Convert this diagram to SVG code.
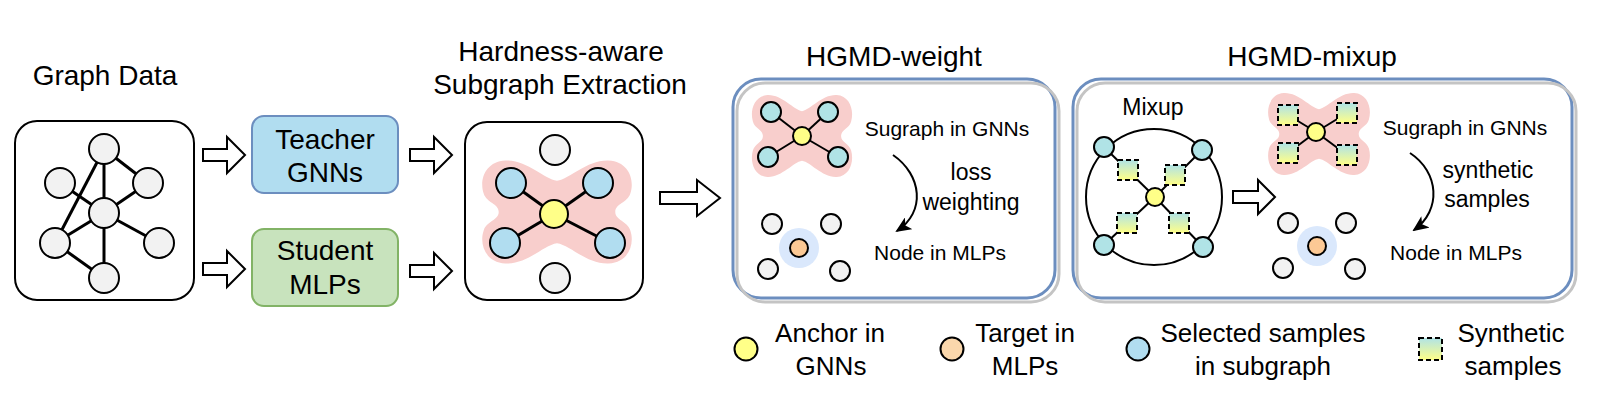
<svg xmlns="http://www.w3.org/2000/svg" width="1604" height="406" viewBox="0 0 1604 406">
<style>
text{font-family:"Liberation Sans",Arial,sans-serif;fill:#000;text-anchor:middle}
.h{font-size:28px}
.p{font-size:21px}
.q{font-size:23px}
.l{font-size:26px}
.box{fill:#fff;stroke:#000;stroke-width:2}
.e{stroke:#000;stroke-width:3;fill:none}
.e2{stroke:#000;stroke-width:2;fill:none}
.g{fill:#f2f2f2;stroke:#000;stroke-width:2}
.b{fill:#b1ddf0;stroke:#000;stroke-width:2}
.t{fill:#b0e3e6;stroke:#000;stroke-width:2}
.y{fill:#ffff88;stroke:#000;stroke-width:2}
.o{fill:#fcc995;stroke:#000;stroke-width:2}
.halo{fill:#dae8fc}
.blob{fill:#f8cecc}
.arr{fill:#fff;stroke:#000;stroke-width:2;stroke-linejoin:miter}
.sq{fill:url(#sg);stroke:#000;stroke-width:2;stroke-dasharray:5 3}
.pb{fill:#fff;stroke:#6c8ebf;stroke-width:3}
.ps{fill:none;stroke:#c4c4c4;stroke-width:3}
</style>
<defs>
<linearGradient id="sg" x1="0" y1="0" x2="0" y2="1">
<stop offset="0" stop-color="#b0e3e6"/>
<stop offset="1" stop-color="#ffff88"/>
</linearGradient>
<path id="blobp" d="M0,-34 C14,-36 32,-57 55,-56 C76,-55 83,-35 78,-20 C75,-10 62,-9 62,0 C62,9 75,10 78,20 C83,35 76,55 55,56 C32,57 14,36 0,34 C-14,36 -32,57 -55,56 C-76,55 -83,35 -78,20 C-75,10 -62,9 -62,0 C-62,-9 -75,-10 -78,-20 C-83,-35 -76,-55 -55,-56 C-32,-57 -14,-36 0,-34 Z"/>
<marker id="ah" markerUnits="userSpaceOnUse" markerWidth="16" markerHeight="14" refX="14" refY="7" orient="auto">
<path d="M0,0 L16,7 L0,14 L4,7 Z" fill="#000"/>
</marker>
</defs>

<!-- Graph Data -->
<g id="graph-data">
<text class="h" x="105" y="85">Graph Data</text>
<rect class="box" x="15" y="121" width="179" height="179" rx="22"/>
<line class="e" x1="104" y1="149" x2="104" y2="213"/>
<line class="e" x1="104" y1="149" x2="148" y2="183"/>
<line class="e" x1="104" y1="149" x2="55" y2="243"/>
<line class="e" x1="60" y1="183" x2="104" y2="213"/>
<line class="e" x1="148" y1="183" x2="104" y2="213"/>
<line class="e" x1="104" y1="213" x2="55" y2="243"/>
<line class="e" x1="104" y1="213" x2="159" y2="243"/>
<line class="e" x1="104" y1="213" x2="104" y2="278"/>
<line class="e" x1="55" y1="243" x2="104" y2="278"/>
<circle class="g" cx="104" cy="149" r="15"/>
<circle class="g" cx="60" cy="183" r="15"/>
<circle class="g" cx="148" cy="183" r="15"/>
<circle class="g" cx="104" cy="213" r="15"/>
<circle class="g" cx="55" cy="243" r="15"/>
<circle class="g" cx="159" cy="243" r="15"/>
<circle class="g" cx="104" cy="278" r="15"/>
</g>

<!-- Teacher / Student -->
<g id="teacher">
<rect x="252" y="116" width="146" height="77" rx="12" fill="#b1ddf0" stroke="#6c8ebf" stroke-width="2"/>
<text class="h" x="325" y="149">Teacher</text>
<text class="h" x="325" y="182">GNNs</text>
</g>
<g id="student">
<rect x="252" y="229" width="146" height="77" rx="12" fill="#c8e3bd" stroke="#82b366" stroke-width="2"/>
<text class="h" x="325" y="260">Student</text>
<text class="h" x="325" y="294">MLPs</text>
</g>

<!-- Subgraph extraction -->
<g id="subgraph-extraction">
<text class="h" x="561" y="61">Hardness-aware</text>
<text class="h" x="560" y="94">Subgraph Extraction</text>
<rect class="box" x="465" y="122" width="178" height="178" rx="22"/>
<use href="#blobp" class="blob" transform="translate(557,212) scale(0.94,0.92)"/>
<line class="e" x1="554" y1="214" x2="511" y2="183"/>
<line class="e" x1="554" y1="214" x2="598" y2="183"/>
<line class="e" x1="554" y1="214" x2="505" y2="243"/>
<line class="e" x1="554" y1="214" x2="610" y2="243"/>
<circle class="g" cx="555" cy="150" r="15"/>
<circle class="g" cx="555" cy="278" r="15"/>
<circle class="b" cx="511" cy="183" r="15"/>
<circle class="b" cx="598" cy="183" r="15"/>
<circle class="b" cx="505" cy="243" r="15"/>
<circle class="b" cx="610" cy="243" r="15"/>
<circle class="y" cx="554" cy="214" r="14"/>
</g>

<!-- HGMD-weight -->
<g id="hgmd-weight">
<text class="h" x="894" y="66">HGMD-weight</text>
<rect class="pb" x="733" y="79" width="322" height="219" rx="28"/>
<rect class="ps" x="737" y="83" width="322" height="219" rx="28"/>
<use href="#blobp" class="blob" transform="translate(802,136) scale(0.63,0.73)"/>
<line class="e2" x1="802" y1="136" x2="771" y2="112"/>
<line class="e2" x1="802" y1="136" x2="828" y2="112"/>
<line class="e2" x1="802" y1="136" x2="768" y2="157"/>
<line class="e2" x1="802" y1="136" x2="838" y2="157"/>
<circle class="t" cx="771" cy="112" r="10"/>
<circle class="t" cx="828" cy="112" r="10"/>
<circle class="t" cx="768" cy="157" r="10"/>
<circle class="t" cx="838" cy="157" r="10"/>
<circle class="y" cx="802" cy="136" r="9"/>
<text class="p" x="947" y="136">Sugraph in GNNs</text>
<text class="q" x="971" y="180">loss</text>
<text class="q" x="971" y="210">weighting</text>
<text class="p" x="940" y="260">Node in MLPs</text>
<circle class="halo" cx="799" cy="248" r="20"/>
<circle class="o" cx="799" cy="248" r="9"/>
<circle class="g" cx="772" cy="224" r="10"/>
<circle class="g" cx="831" cy="224" r="10"/>
<circle class="g" cx="768" cy="269" r="10"/>
<circle class="g" cx="840" cy="271" r="10"/>
</g>

<!-- HGMD-mixup -->
<g id="hgmd-mixup">
<text class="h" x="1312" y="66">HGMD-mixup</text>
<rect class="pb" x="1073" y="79" width="499" height="219" rx="28"/>
<rect class="ps" x="1077" y="83" width="499" height="219" rx="28"/>
<text class="q" x="1153" y="115">Mixup</text>
<circle cx="1154" cy="197" r="68" fill="none" stroke="#000" stroke-width="2"/>
<line class="e2" x1="1155" y1="197" x2="1104" y2="147"/>
<line class="e2" x1="1155" y1="197" x2="1202" y2="150"/>
<line class="e2" x1="1155" y1="197" x2="1104" y2="245"/>
<line class="e2" x1="1155" y1="197" x2="1203" y2="247"/>
<circle class="t" cx="1104" cy="147" r="10"/>
<circle class="t" cx="1202" cy="150" r="10"/>
<circle class="t" cx="1104" cy="245" r="10"/>
<circle class="t" cx="1203" cy="247" r="10"/>
<rect class="sq" x="1118" y="160" width="20" height="20"/>
<rect class="sq" x="1165" y="165" width="20" height="20"/>
<rect class="sq" x="1117" y="213" width="20" height="20"/>
<rect class="sq" x="1169" y="213" width="20" height="20"/>
<circle class="y" cx="1155" cy="197" r="9"/>
<use href="#blobp" class="blob" transform="translate(1319,134) scale(0.64,0.73)"/>
<line class="e2" x1="1316" y1="132" x2="1288" y2="115"/>
<line class="e2" x1="1316" y1="132" x2="1347" y2="113"/>
<line class="e2" x1="1316" y1="132" x2="1288" y2="153"/>
<line class="e2" x1="1316" y1="132" x2="1347" y2="155"/>
<rect class="sq" x="1278" y="105" width="20" height="20"/>
<rect class="sq" x="1337" y="103" width="20" height="20"/>
<rect class="sq" x="1278" y="143" width="20" height="20"/>
<rect class="sq" x="1337" y="145" width="20" height="20"/>
<circle class="y" cx="1316" cy="132" r="9"/>
<text class="p" x="1465" y="135">Sugraph in GNNs</text>
<text class="q" x="1488" y="178">synthetic</text>
<text class="q" x="1487" y="207">samples</text>
<text class="p" x="1456" y="260">Node in MLPs</text>
<circle class="halo" cx="1317" cy="246" r="20"/>
<circle class="o" cx="1317" cy="246" r="9"/>
<circle class="g" cx="1288" cy="223" r="10"/>
<circle class="g" cx="1346" cy="223" r="10"/>
<circle class="g" cx="1283" cy="268" r="10"/>
<circle class="g" cx="1355" cy="269" r="10"/>
</g>

<!-- Legend -->
<g id="legend">
<circle class="y" cx="746" cy="349" r="11.5"/>
<text class="l" x="830" y="342">Anchor in</text>
<text class="l" x="831" y="375">GNNs</text>
<circle cx="952" cy="349" r="11.5" fill="#fad7ac" stroke="#000" stroke-width="2"/>
<text class="l" x="1025" y="342">Target in</text>
<text class="l" x="1025" y="375">MLPs</text>
<circle class="b" cx="1138" cy="349" r="11.5"/>
<text class="l" x="1263" y="342">Selected samples</text>
<text class="l" x="1263" y="375">in subgraph</text>
<rect class="sq" x="1419" y="338" width="23" height="22"/>
<text class="l" x="1511" y="342">Synthetic</text>
<text class="l" x="1513" y="375">samples</text>
</g>

<!-- Connectors -->
<g id="connectors">
<path class="arr" d="M203,149 L227,149 L227,137 L245,155 L227,173 L227,161 L203,161 Z"/>
<path class="arr" d="M203,263 L227,263 L227,251 L245,269 L227,287 L227,275 L203,275 Z"/>
<path class="arr" d="M410,149 L434,149 L434,137 L452,155 L434,173 L434,161 L410,161 Z"/>
<path class="arr" d="M410,265 L434,265 L434,253 L452,271 L434,289 L434,277 L410,277 Z"/>
<path class="arr" d="M660,192 L697,192 L697,180 L720,198 L697,216 L697,204 L660,204 Z"/>
<path class="arr" d="M1233,191 L1258,191 L1258,180 L1275,197 L1258,214 L1258,203 L1233,203 Z"/>
<path d="M893,155 C922,175 926,212 897,231" fill="none" stroke="#000" stroke-width="2" marker-end="url(#ah)"/>
<path d="M1410,153 C1439,172 1442,210 1414,230" fill="none" stroke="#000" stroke-width="2" marker-end="url(#ah)"/>
</g>
</svg>
